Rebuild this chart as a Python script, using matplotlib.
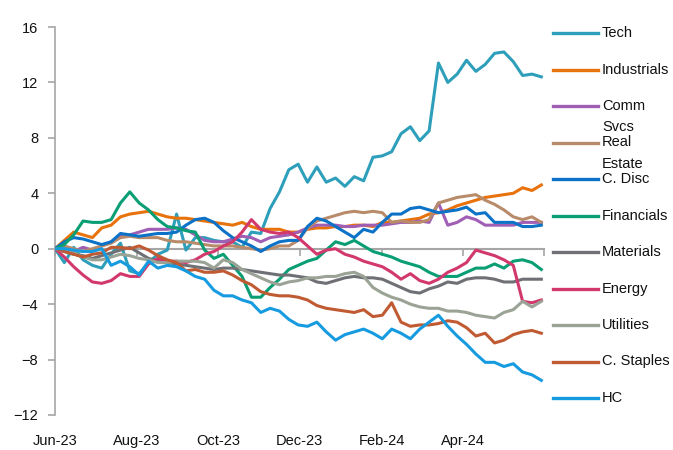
import numpy as np
import pandas as pd
import matplotlib
matplotlib.use("Agg")
import matplotlib.pyplot as plt
import matplotlib.dates as mdates
from matplotlib.lines import Line2D

plt.rcParams['font.family'] = ['Liberation Sans', 'DejaVu Sans']

# weekly relative performance vs index, %
dates = pd.date_range('2023-06-01', periods=53, freq='7D')

tech = [0, -1.0, 0.1, -0.8, -1.2, -1.4, -0.4, 0.4, -1.6, -1.8, -1.0, -0.4, -0.1, 2.5,
        -0.1, 0.8, 0.8, 0.6, 0.5, 0.5, 0.1, 1.2, 1.1, 2.9, 4.1, 5.7, 6.1, 4.8, 5.9, 4.8,
        5.1, 4.5, 5.2, 4.9, 6.6, 6.7, 7.0, 8.3, 8.8, 7.8, 8.5, 13.4, 12.0, 12.6, 13.6,
        12.8, 13.3, 14.1, 14.2, 13.5, 12.5, 12.6, 12.4]
industrials = [0, 0.6, 1.2, 1.0, 0.8, 1.5, 1.7, 2.3, 2.5, 2.6, 2.7, 2.5, 2.3, 2.2, 2.2,
               2.1, 2.0, 1.9, 1.8, 1.7, 1.9, 1.6, 1.4, 1.4, 1.4, 1.2, 1.2, 1.4, 1.5, 1.5,
               1.6, 1.6, 1.7, 1.7, 1.6, 1.9, 1.9, 2.0, 2.1, 2.2, 2.5, 2.6, 2.8, 3.1, 3.3,
               3.5, 3.7, 3.8, 3.9, 4.0, 4.4, 4.2, 4.6]
comm_svcs = [0, 0.1, -0.2, 0.1, -0.1, 0.2, 0.5, 0.9, 1.0, 1.2, 1.4, 1.4, 1.4, 1.5, 1.4,
             1.0, 0.6, 0.5, 0.5, 0.7, 0.9, 0.8, 0.5, 0.8, 0.9, 1.0, 1.2, 1.5, 1.7, 1.7,
             1.7, 1.6, 1.6, 1.7, 1.7, 1.7, 1.8, 1.9, 1.9, 2.0, 1.9, 3.3, 1.7, 1.9, 2.3,
             2.1, 1.7, 1.7, 1.7, 1.7, 1.9, 1.9, 1.9]
real_estate = [0, 0.2, 0.0, -0.2, 0.0, 0.2, 0.4, 0.8, 0.9, 0.8, 0.8, 0.8, 0.6, 0.5, 0.5,
               0.4, 0.3, 0.2, 0.2, 0.2, 0.1, 0.0, -0.1, 0.0, 0.2, 0.2, 0.6, 1.5, 2.0, 2.2,
               2.4, 2.6, 2.7, 2.6, 2.7, 2.6, 1.9, 2.0, 1.9, 1.9, 2.1, 3.3, 3.5, 3.7, 3.8,
               3.9, 3.5, 3.2, 2.8, 2.3, 2.1, 2.3, 1.9]
c_disc = [0, 0.5, 0.8, 0.7, 0.5, 0.3, 0.5, 1.1, 1.0, 0.9, 1.0, 1.1, 1.1, 1.2, 1.7, 2.1,
          2.2, 1.9, 1.3, 0.8, 0.5, 0.2, -0.2, 0.2, 0.5, 0.6, 0.6, 1.6, 2.2, 2.0, 1.6, 1.2,
          0.8, 1.4, 1.2, 1.9, 2.5, 2.5, 2.9, 3.0, 2.8, 2.6, 2.7, 2.8, 3.0, 2.5, 2.6, 1.9,
          1.9, 1.9, 1.6, 1.6, 1.7]
financials = [0, 0.3, 1.0, 2.0, 1.9, 1.9, 2.1, 3.3, 4.1, 3.3, 2.8, 2.1, 1.6, 1.5, 1.3,
              1.2, -0.1, -0.7, -0.4, -1.2, -2.0, -3.5, -3.5, -2.8, -2.2, -1.5, -1.2, -0.9,
              -0.7, -0.1, 0.5, 0.3, 0.6, 0.2, -0.2, -0.4, -0.6, -0.9, -1.1, -1.3, -1.7,
              -2.0, -2.0, -2.0, -1.7, -1.4, -1.4, -1.1, -1.4, -0.9, -0.8, -1.0, -1.5]
materials = [0, -0.2, -0.4, -0.5, -0.7, -0.5, -0.3, -0.1, 0.1, -0.3, -0.7, -0.9, -1.0,
             -1.1, -1.2, -1.3, -1.4, -1.5, -1.4, -1.4, -1.5, -1.6, -1.7, -1.8, -1.9, -1.9,
             -2.0, -2.1, -2.4, -2.5, -2.3, -2.1, -2.0, -2.1, -2.1, -2.2, -2.5, -2.8, -3.1,
             -3.2, -2.9, -2.7, -2.4, -2.5, -2.2, -2.1, -2.1, -2.2, -2.4, -2.4, -2.2, -2.2,
             -2.2]
energy = [0, -0.6, -1.3, -1.9, -2.4, -2.5, -2.3, -1.8, -2.0, -2.0, -1.1, -0.7, -0.9, -0.9,
          -1.0, -0.8, -0.4, -0.2, 0.2, 0.5, 1.2, 2.1, 1.4, 1.2, 1.1, 1.2, 0.8, 0.2, -0.4,
          -0.1, 0.0, -0.4, -0.6, -0.9, -1.1, -1.3, -1.7, -2.2, -1.8, -2.3, -2.5, -2.2,
          -1.7, -1.4, -1.0, -0.1, -0.3, -0.5, -0.8, -1.2, -3.8, -3.9, -3.7]
utilities = [0, -0.2, -0.3, -0.6, -0.8, -0.8, -0.6, -0.4, -0.5, -0.7, -0.8, -1.0, -1.0,
             -0.9, -0.9, -0.9, -1.0, -1.4, -0.8, -1.0, -1.5, -1.8, -2.1, -2.4, -2.6, -2.4,
             -2.3, -2.1, -2.1, -2.0, -2.0, -1.8, -1.7, -2.0, -2.8, -3.2, -3.5, -3.7, -4.0,
             -4.2, -4.3, -4.3, -4.5, -4.5, -4.6, -4.8, -4.9, -5.0, -4.6, -4.4, -3.8, -4.2,
             -3.8]
c_staples = [0, -0.2, -0.4, -0.6, -0.4, -0.3, 0.1, 0.1, 0.0, 0.2, -0.1, -0.5, -0.8, -1.0,
             -1.6, -1.5, -1.7, -1.7, -1.6, -1.9, -2.3, -2.6, -3.1, -3.3, -3.4, -3.4, -3.5,
             -3.7, -4.1, -4.3, -4.4, -4.5, -4.6, -4.4, -4.9, -4.8, -3.9, -5.3, -5.6, -5.5,
             -5.5, -5.4, -5.2, -5.3, -5.7, -6.3, -6.1, -6.8, -6.6, -6.2, -6.0, -5.9, -6.1]
hc = [0, 0.0, -0.1, -0.2, -0.2, 0.0, -1.2, -0.9, -1.3, -1.9, -0.9, -1.4, -1.2, -1.3, -1.6,
      -2.0, -2.2, -3.0, -3.4, -3.4, -3.7, -3.9, -4.6, -4.3, -4.5, -5.1, -5.5, -5.6, -5.3,
      -6.0, -6.6, -6.2, -6.0, -5.8, -6.1, -6.5, -5.8, -6.1, -6.5, -5.8, -5.3, -4.8, -5.6,
      -6.3, -6.9, -7.6, -8.2, -8.2, -8.5, -8.3, -8.9, -9.1, -9.5]

labels = ['Tech', 'Industrials', 'Comm\nSvcs', 'Real\nEstate', 'C. Disc', 'Financials',
          'Materials', 'Energy', 'Utilities', 'C. Staples', 'HC']
series = [tech, industrials, comm_svcs, real_estate, c_disc, financials,
          materials, energy, utilities, c_staples, hc]
colors = ['#2E9FBA', '#E8720C', '#A05EB5', '#B88B6A', '#0C72C8', '#0A9E74',
          '#6E7075', '#D2386C', '#9AA395', '#C05A32', '#169BE0']

tick_dates = pd.to_datetime(['2023-06-01', '2023-08-01', '2023-10-01', '2023-12-01',
                             '2024-02-01', '2024-04-01', '2024-06-01'])
tick_labels = ['Jun-23', 'Aug-23', 'Oct-23', 'Dec-23', 'Feb-24', 'Apr-24', '']

W, H = 673, 450
fs = 10.5
fig = plt.figure(figsize=(W / 100, H / 100), dpi=100)
ax = fig.add_axes([55 / W, 1 - 415 / H, 489 / W, 388 / H])

for vals, c in zip(series, colors):
    ax.plot(dates, vals, color=c, lw=2.2, zorder=3, solid_joinstyle='round')

gray = '#a6a6a6'
ax.set_xlim(tick_dates[0], tick_dates[-1])
ax.set_ylim(-12, 16)
ax.set_yticks(range(-12, 17, 4))
for s in ['top', 'right']:
    ax.spines[s].set_visible(False)
ax.spines['left'].set_color(gray)
ax.spines['left'].set_linewidth(1.2)
ax.spines['bottom'].set_position(('data', 0))
ax.spines['bottom'].set_color(gray)
ax.spines['bottom'].set_linewidth(1.5)
ax.set_xticks(mdates.date2num(tick_dates))
ax.tick_params(axis='x', direction='out', length=5, width=1.2, color=gray, labelbottom=False)
ax.tick_params(axis='y', direction='out', length=5, width=1.2, color=gray,
               labelsize=fs, pad=7, labelcolor='#111111')

sec = ax.secondary_xaxis('bottom')
sec.spines['bottom'].set_visible(False)
sec.set_xticks(mdates.date2num(tick_dates), labels=tick_labels)
sec.tick_params(length=0, pad=14, labelsize=fs, labelcolor='#111111')

# legend drawn at the right, one row per sector
y0, dy = 33, 36.5
for k, (lab, c) in enumerate(zip(labels, colors)):
    y = y0 + dy * k
    fig.add_artist(Line2D([553 / W, 598 / W], [1 - y / H, 1 - y / H], color=c, lw=2.4,
                          transform=fig.transFigure))
    for j, part in enumerate(lab.split('\n')):
        fig.text(602 / W, 1 - (y + 21 * j) / H, part, fontsize=fs, va='center',
                 ha='left', color='#111111')

fig.savefig('out.png', dpi=100)
